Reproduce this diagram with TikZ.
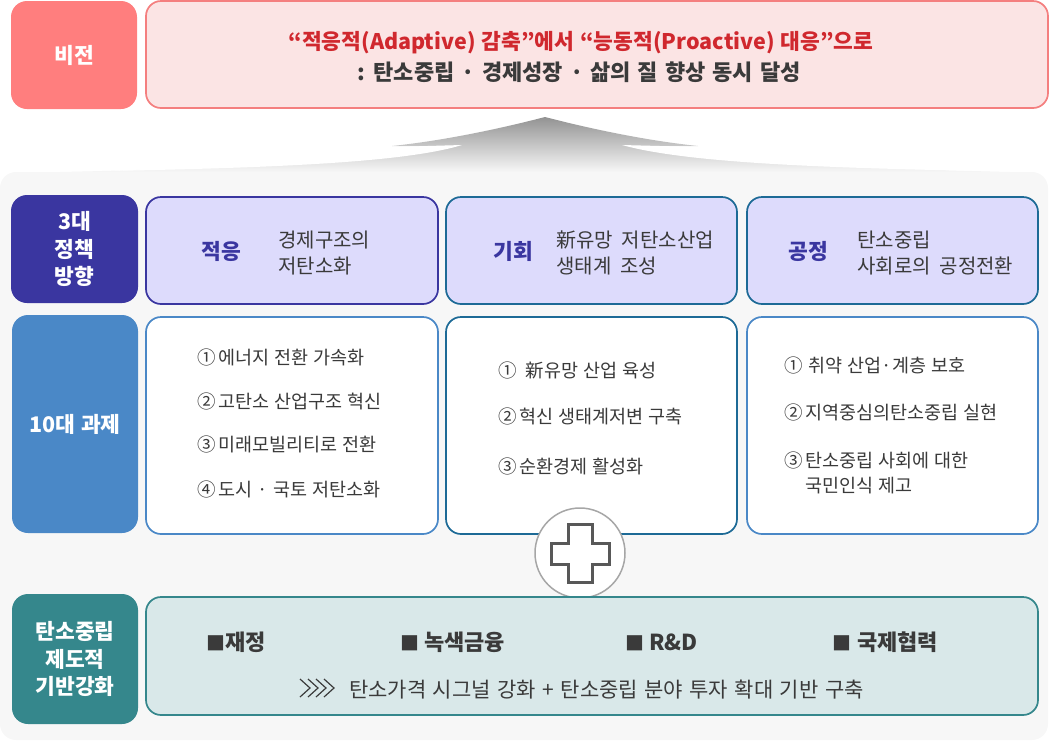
\documentclass[tikz,border=0pt]{standalone}
\usepackage{fontspec}
\setmainfont[WordSpace=2]{Noto Sans CJK KR}
\definecolor{salmon}{HTML}{FF7E7E}
\definecolor{visfill}{HTML}{FBE4E4}
\definecolor{visdraw}{HTML}{F47F7F}
\definecolor{visred}{HTML}{D0282E}
\definecolor{ink}{HTML}{3A3A3A}
\definecolor{indigo}{HTML}{3A36A0}
\definecolor{lav}{HTML}{DDDBFC}
\definecolor{tealblue}{HTML}{1D6A96}
\definecolor{midblue}{HTML}{4A88C7}
\definecolor{teal}{HTML}{35878C}
\definecolor{tealfill}{HTML}{D9E8E9}
\definecolor{panelc}{HTML}{F7F7F7}
\newcommand{\sqmark}{{\fontsize{19}{19}\selectfont ■}}
\newcommand{\wsp}[1]{\spaceskip=#1\relax}
\tikzset{
  labbox/.style={rounded corners=16pt, fill=#1, text=white, inner sep=0pt, align=center,
    font=\bfseries\fontsize{21.5}{27.5}\selectfont},
  cardbox/.style={rounded corners=15pt, line width=1.7pt, inner sep=0pt},
  keyword/.style={font=\bfseries\fontsize{21.5}{24}\selectfont, text=indigo, inner sep=0pt},
  desc/.style={font=\fontsize{20}{26}\selectfont, text=ink, anchor=west, align=left, inner sep=0pt},
  item/.style={font=\fontsize{18.5}{25}\selectfont\wsp{5pt}, text=ink, anchor=west, align=left, inner sep=0pt},
  pillar/.style={font=\bfseries\fontsize{22}{24}\selectfont, text=ink, anchor=west, inner sep=0pt},
  chev/.style={line width=1.2pt, draw=ink},
}
\begin{document}
\begin{tikzpicture}[x=1pt,y=-1pt]
\useasboundingbox (0,0) rectangle (1060,740);

% background panel
\fill[panelc, rounded corners=16pt] (0,172) rectangle (1048,740);

% upward arrow
\shade[top color=gray!85, bottom color=panelc]
  (545,117) .. controls (495,130) and (440,141) .. (392,146) -- (458,146)
  .. controls (380,158) and (250,168) .. (60,172) -- (1010,172)
  .. controls (840,168) and (710,158) .. (627,146) -- (698,146)
  .. controls (650,141) and (595,130) .. (545,117) -- cycle;
\fill[white] (462,145) -- (393,147) .. controls (300,158) and (200,166) .. (110,171)
  .. controls (250,168) and (400,164) .. (462,145) -- cycle;
\fill[white] (622,145) -- (698,147) .. controls (790,158) and (890,166) .. (980,171)
  .. controls (840,168) and (690,164) .. (622,145) -- cycle;

% vision
\node[labbox=salmon, minimum width=126pt, minimum height=108pt] (vlab) at (74,55) {비전};
\node[cardbox, fill=visfill, draw=visdraw, minimum width=902pt, minimum height=107pt] (vbox) at (597,54.5) {};
\node[font=\bfseries\fontsize{21.5}{26}\selectfont, text=visred, inner sep=0pt] (v1) at (581,43) {\wsp{6pt}“적응적(Adaptive) 감축”에서 “능동적(Proactive) 대응”으로};
\node[font=\bfseries\fontsize{22}{24}\selectfont, text=ink, inner sep=0pt] (v2) at (579,72) {\wsp{7pt}: 탄소중립 · 경제성장 · 삶의 질 향상 동시 달성};

% row 1
\node[labbox=indigo, minimum width=127pt, minimum height=108pt] (l1) at (74.5,249) {3대\\정책\\방향};
\node[cardbox, fill=lav, draw=indigo, minimum width=292pt, minimum height=107pt] (b1) at (292,250.5) {};
\node[cardbox, fill=lav, draw=tealblue, minimum width=291pt, minimum height=107pt] (b2) at (591.5,250.5) {};
\node[cardbox, fill=lav, draw=tealblue, minimum width=291pt, minimum height=107pt] (b3) at (892.5,250.5) {};
\node[keyword] (k1) at (221,251) {적응};
\node[desc] (d1) at (278,253) {경제구조의\\저탄소화};
\node[keyword] (k2) at (513,251) {기회};
\node[desc] (d2) at (556,253) {新유망 저탄소산업\\생태계 조성};
\node[keyword] (k3) at (808,251) {공정};
\node[desc] (d3) at (857,253) {탄소중립\\사회로의 공정전환};

% row 2
\node[labbox=midblue, minimum width=126pt, minimum height=218pt] (l2) at (75,424) {\wsp{6pt}10대 과제};
\node[cardbox, fill=white, draw=midblue, minimum width=292pt, minimum height=217pt] (c1) at (292,425.5) {};
\node[cardbox, fill=white, draw=tealblue, minimum width=291pt, minimum height=217pt] (c2) at (591.5,425.5) {};
\node[cardbox, fill=white, draw=midblue, minimum width=291pt, minimum height=217pt] (c3) at (892.5,425.5) {};
\node[item] (i11) at (197,357) {①\hspace{3pt}에너지 전환 가속화};
\node[item] (i12) at (197,401) {②\hspace{3pt}고탄소 산업구조 혁신};
\node[item] (i13) at (197,444) {③\hspace{3pt}미래모빌리티로 전환};
\node[item] (i14) at (197,489) {④\hspace{3pt}도시 · 국토 저탄소화};
\node[item] (i21) at (498,370) {①\hspace{9pt}新유망 산업 육성};
\node[item] (i22) at (498,416) {②\hspace{3pt}혁신 생태계저변 구축};
\node[item] (i23) at (498,466) {③\hspace{3pt}순환경제 활성화};
\node[item] (i31) at (784,365) {①\hspace{6pt}취약 산업·계층 보호};
\node[item] (i32) at (784,412) {②\hspace{3pt}지역중심의탄소중립 실현};
\node[item] (i33) at (784,473) {③\hspace{3pt}탄소중립 사회에 대한\\\hspace*{21pt}국민인식 제고};

% plus
\node[circle, fill=white, draw=gray!70, line width=1.5pt, minimum size=90pt, inner sep=0pt] (plus) at (580,553) {};
\draw[shift={(plus.center)}, line width=3pt, draw=ink!85, fill=white, line join=miter]
  (-12,-29) -- (12,-29) -- (12,-10) -- (29,-10) -- (29,11) -- (12,11) -- (12,29)
  -- (-12,29) -- (-12,11) -- (-29,11) -- (-29,-10) -- (-12,-10) -- cycle;

% row 3
\node[labbox=teal, minimum width=126pt, minimum height=130pt] (l3) at (75,659) {탄소중립\\제도적\\기반강화};
\node[cardbox, fill=tealfill, draw=teal, minimum width=892pt, minimum height=118pt] (d) at (592,656) {};
\node[pillar] (p1) at (206,642) {\sqmark 재정};
\node[pillar] (p2) at (400,642) {\sqmark\hspace{5pt}녹색금융};
\node[pillar] (p3) at (625,642) {\sqmark\hspace{5pt}R\&D};
\node[pillar] (p4) at (832,642) {\sqmark\hspace{6pt}국제협력};
\coordinate (cv) at (300,688);
\foreach \i in {0,1,2,3}
  \draw[chev] ([xshift=\i*8pt]cv) ++(0,-9) -- ++(10,9) -- ++(-10,9);
\node[item, font=\fontsize{21}{24}\selectfont] (p5) at (349,690) {\wsp{6.5pt}탄소가격 시그널 강화 + 탄소중립 분야 투자 확대 기반 구축};
\end{tikzpicture}
\end{document}
